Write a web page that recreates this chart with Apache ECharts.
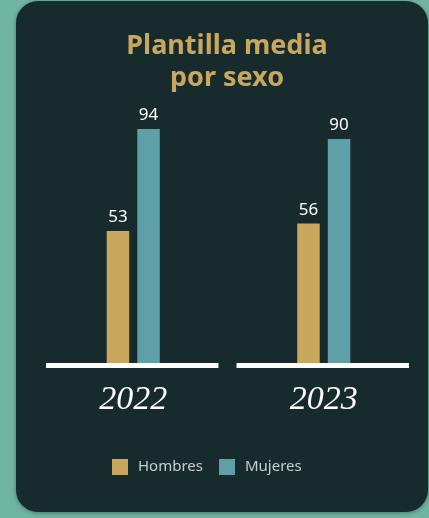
<!DOCTYPE html>
<html>
<head>
<meta charset="utf-8">
<script src="https://cdn.jsdelivr.net/npm/echarts@6/dist/echarts.min.js"></script>
<style>
  html, body { margin: 0; padding: 0; width: 429px; height: 518px; overflow: hidden; background: #70b4a2; }
  #card {
    position: absolute; left: 16px; top: 1px; width: 412px; height: 511px;
    background: #172b2d; border-radius: 22px;
    box-shadow: 0 1px 4px rgba(0,0,0,0.35);
  }
  #chart { position: absolute; left: 0; top: 0; width: 429px; height: 518px; }
</style>
</head>
<body>
<div id="card"></div>
<div id="chart"></div>
<script>
// Average headcount by sex per year
const years = ['2022', '2023'];
const hombres = [53, 56];
const mujeres = [94, 90];
const seriesNames = ['Hombres', 'Mujeres'];
const titleText = 'Plantilla media\npor sexo';

const GOLD = '#c9a75c';
const TEAL = '#5e9fa8';

const chart = echarts.init(document.getElementById('chart'), null, { renderer: 'canvas' });

chart.setOption({
  backgroundColor: 'transparent',
  animation: false,
  title: {
    text: titleText,
    left: 222,
    textAlign: 'center',
    top: 25,
    textStyle: {
      color: GOLD,
      fontFamily: 'Noto Sans',
      fontWeight: 'bold',
      fontSize: 27,
      lineHeight: 32
    }
  },
  legend: {
    data: seriesNames,
    left: 107,
    top: 454,
    itemWidth: 16,
    itemHeight: 16,
    itemGap: 16,
    icon: 'rect',
    textStyle: {
      color: '#c9ced0',
      fontFamily: 'Noto Sans',
      fontSize: 15,
      padding: [0, 0, 0, 5]
    }
  },
  grid: { left: 38, right: 10, top: 114, bottom: 155 },
  xAxis: {
    type: 'category',
    data: years,
    axisLine: { show: false },
    axisTick: { show: false },
    axisLabel: {
      margin: 20,
      color: '#ffffff',
      fontFamily: 'Liberation Serif',
      fontStyle: 'italic',
      fontSize: 34
    }
  },
  yAxis: {
    type: 'value',
    min: 0,
    max: 100,
    show: false,
    splitLine: { show: false }
  },
  series: [
    {
      name: 'Hombres',
      type: 'bar',
      data: hombres,
      barWidth: 22.5,
      barGap: '36%',
      itemStyle: { color: GOLD },
      label: {
        show: true, position: 'top', distance: 5,
        color: '#ffffff', fontFamily: 'Noto Sans', fontSize: 17
      }
    },
    {
      name: 'Mujeres',
      type: 'bar',
      data: mujeres,
      barWidth: 22.5,
      barGap: '36%',
      itemStyle: { color: TEAL },
      label: {
        show: true, position: 'top', distance: 5,
        color: '#ffffff', fontFamily: 'Noto Sans', fontSize: 17
      }
    },
    {
      // white baseline under each year group
      type: 'custom',
      silent: true,
      z: 5,
      data: years.map((y, i) => [i, 0]),
      renderItem: function (params, api) {
        const p = api.coord([api.value(0), 0]);
        const band = api.size([1, 0])[0];
        const w = band * 0.905;
        return {
          type: 'rect',
          shape: { x: p[0] - w / 2 - 1, y: p[1], width: w, height: 5 },
          style: { fill: '#ffffff' }
        };
      }
    }
  ]
});
</script>
</body>
</html>
